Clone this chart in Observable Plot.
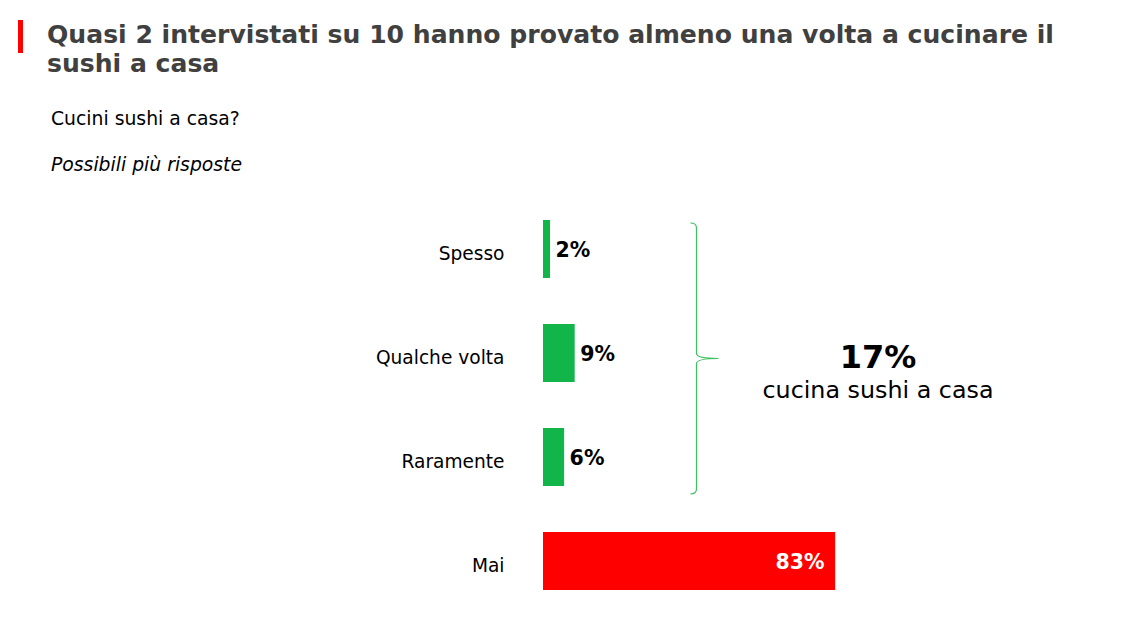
<!DOCTYPE html>
<html>
<head>
<meta charset="utf-8">
<script src="https://cdn.jsdelivr.net/npm/d3@7"></script>
<script src="https://cdn.jsdelivr.net/npm/@observablehq/plot@0.6"></script>
<style>
  html, body { margin: 0; padding: 0; background: #fff; }
  body { width: 1129px; height: 625px; position: relative; overflow: hidden; font-family: "DejaVu Sans", Verdana, sans-serif; }
  #bar { position: absolute; left: 18px; top: 20px; width: 5px; height: 33px; background: #ff0000; }
  #title { position: absolute; left: 47px; top: 20px; font-size: 25.1px; font-weight: bold; color: #404040; line-height: 29px; white-space: nowrap; }
  #sub { position: absolute; left: 51px; top: 108px; font-size: 18.8px; color: #000; white-space: nowrap; }
  #note { position: absolute; left: 51px; top: 154px; font-size: 18.8px; font-style: italic; color: #000; white-space: nowrap; }
  #chart { position: absolute; left: 0; top: 195px; }
  #ann { position: absolute; left: 728px; top: 338px; width: 300px; text-align: center; color: #000; }
  #ann .big { font-size: 32px; font-weight: bold; line-height: 38px; }
  #ann .small { font-size: 23.8px; line-height: 28px; }
</style>
</head>
<body>
<div id="bar"></div>
<div id="title">Quasi 2 intervistati su 10 hanno provato almeno una volta a cucinare il<br>sushi a casa</div>
<div id="sub">Cucini sushi a casa?</div>
<div id="note">Possibili più risposte</div>
<div id="chart"></div>
<div id="ann"><div class="big" id="annBig"></div><div class="small" id="annSmall"></div></div>
<script>
const categories = ["Spesso", "Qualche volta", "Raramente", "Mai"];
const values = [2, 9, 6, 83];
const groups = ["si", "si", "si", "no"];
const groupColors = { si: "#12b54a", no: "#ff0000" };
const annotationText = "cucina sushi a casa";

const data = categories.map((c, i) => ({ cat: c, v: values[i], g: groups[i] }));
const yesTotal = data.filter(d => d.g === "si").reduce((s, d) => s + d.v, 0);
document.getElementById("annBig").textContent = yesTotal + "%";
document.getElementById("annSmall").textContent = annotationText;

const yesCats = data.filter(d => d.g === "si").map(d => d.cat);

function brace(index, scales, values, dimensions) {
  const y0 = scales.y(yesCats[0]) + 3;
  const y1 = scales.y(yesCats[yesCats.length - 1]) + scales.y.bandwidth() + 8;
  const xa = scales.x(41.9);
  const xb = xa + 6;
  const xt = xa + 28;
  const ym = (y0 + y1) / 2;
  const p = d3.path();
  p.moveTo(xa, y0);
  p.quadraticCurveTo(xb, y0, xb, y0 + 5);
  p.lineTo(xb, ym - 5);
  p.quadraticCurveTo(xb, ym, xt, ym);
  p.quadraticCurveTo(xb, ym, xb, ym + 5);
  p.lineTo(xb, y1 - 5);
  p.quadraticCurveTo(xb, y1, xa, y1);
  const g = d3.create("svg:path")
    .attr("d", p.toString())
    .attr("fill", "none")
    .attr("stroke", "#3cc060")
    .attr("stroke-width", 1.2);
  return g.node();
}

const chart = Plot.plot({
  width: 1129,
  height: 430,
  marginLeft: 543,
  marginRight: 234,
  marginTop: 24,
  marginBottom: 35,
  style: { fontFamily: "DejaVu Sans, Verdana, sans-serif", background: "transparent" },
  x: { domain: [0, 100], axis: null },
  y: { domain: categories, paddingInner: 0.444, paddingOuter: 0, label: null, tickSize: 0, tickPadding: 39 },
  marks: [
    Plot.barX(data, { x: "v", y: "cat", fill: d => groupColors[d.g] }),
    Plot.axisY({ tickSize: 0, tickPadding: 39, fontSize: 18.6, dy: 5, fill: "#000", label: null }),
    Plot.text(data.filter(d => d.g === "si"), { x: "v", y: "cat", text: d => d.v + "%", textAnchor: "start", dx: 5, dy: 1, fontSize: 20.5, fontWeight: "bold", fill: "#000" }),
    Plot.text(data.filter(d => d.g === "no"), { x: "v", y: "cat", text: d => d.v + "%", textAnchor: "end", dx: -11, dy: 1, fontSize: 20.5, fontWeight: "bold", fill: "#fff" }),
    brace
  ]
});
document.getElementById("chart").appendChild(chart);
</script>
</body>
</html>
